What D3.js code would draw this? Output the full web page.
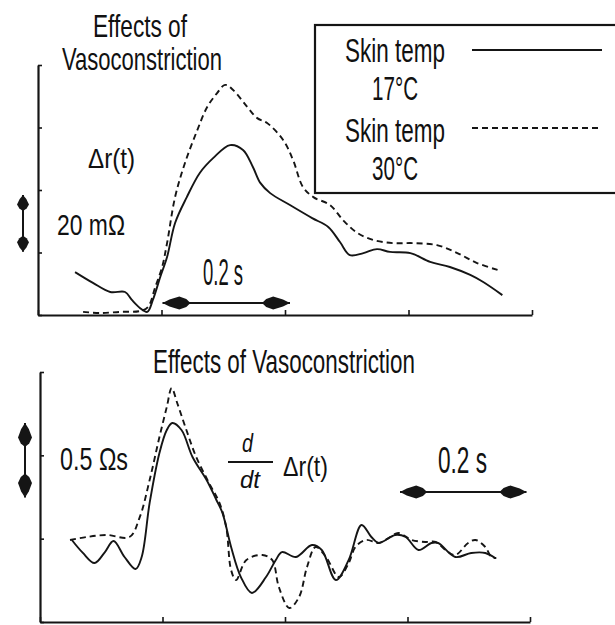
<!DOCTYPE html>
<html>
<head>
<meta charset="utf-8">
<script src="https://cdn.jsdelivr.net/npm/d3@7"></script>
<style>
  html, body { margin: 0; padding: 0; background: #fff; }
  svg { display: block; }
  text { font-family: "Liberation Sans", Arial, sans-serif; fill: #111; }
</style>
</head>
<body>
<svg id="chart" width="615" height="625"></svg>
<script>
// Time axis (ms) and tick positions shared by both panels
const timeTicks = [0, 200, 400, 600, 800];

// Panel A: impedance change Δr(t), mΩ
const resTicks = [0, 22, 44, 66, 88];
const res17 = [
  [60, 15.1], [89, 11.3], [117, 8.1], [141, 8.1], [152, 5.3], [165, 2.5], [177, 1.1],
  [186, 5.3], [198, 13.4], [209, 20.4], [222, 32.4], [241, 41.5], [262, 50.0],
  [284, 55.3], [311, 59.8], [332, 58.1], [348, 52.1], [360, 46.5], [376, 42.9],
  [408, 38.7], [444, 34.1], [470, 31.0], [489, 25.7], [505, 21.1], [527, 21.8],
  [549, 23.2], [570, 22.2], [603, 21.8], [635, 18.7], [667, 16.9], [700, 14.1],
  [721, 11.6], [752, 7.0]
];
const res30 = [
  [73, 1.1], [100, 0.7], [133, 1.1], [165, 1.4], [178, 2.8], [190, 9.9], [201, 16.9],
  [209, 25.3], [222, 41.5], [238, 53.5], [258, 65.1], [274, 73.2], [290, 78.1],
  [303, 81.0], [316, 79.2], [339, 73.2], [355, 69.3], [371, 67.6], [397, 61.6],
  [413, 54.6], [429, 45.1], [446, 41.5], [473, 38.7], [494, 33.4], [517, 28.9],
  [543, 26.4], [575, 25.3], [608, 25.3], [646, 24.6], [679, 21.8], [711, 18.3],
  [745, 15.8]
];

// Panel B: derivative d/dt Δr(t), Ωs
const derivTicks = [0, 0.56, 1.12, 1.68];
const deriv17 = [
  [52, 0.551], [70, 0.464], [89, 0.396], [106, 0.470], [120, 0.544], [138, 0.437],
  [156, 0.356], [166, 0.437], [179, 0.800], [195, 1.136], [207, 1.290], [216, 1.337],
  [231, 1.290], [249, 1.109], [272, 0.954], [288, 0.820], [298, 0.732], [312, 0.504],
  [328, 0.302], [346, 0.195], [369, 0.302], [385, 0.417], [395, 0.470], [418, 0.437],
  [444, 0.517], [460, 0.484], [483, 0.282], [504, 0.417], [525, 0.652], [541, 0.571],
  [553, 0.531], [580, 0.585], [597, 0.571], [618, 0.484], [639, 0.531], [650, 0.531],
  [678, 0.437], [704, 0.464], [727, 0.464], [743, 0.430]
];
const deriv30 = [
  [49, 0.551], [76, 0.571], [109, 0.585], [146, 0.571], [163, 0.706], [179, 0.954],
  [195, 1.243], [207, 1.445], [215, 1.572], [224, 1.472], [239, 1.290], [255, 1.109],
  [276, 0.934], [293, 0.800], [304, 0.638], [312, 0.349], [320, 0.282], [337, 0.417],
  [363, 0.450], [379, 0.417], [390, 0.235], [407, 0.094], [423, 0.168], [436, 0.370],
  [450, 0.504], [467, 0.437], [488, 0.302], [504, 0.396], [515, 0.504], [532, 0.551],
  [553, 0.531], [569, 0.564], [585, 0.598], [607, 0.551], [629, 0.538], [646, 0.538],
  [662, 0.484], [678, 0.450], [699, 0.531], [711, 0.551], [727, 0.504], [737, 0.437],
  [745, 0.430]
];

const legendLabels = [["Skin temp", "17°C"], ["Skin temp", "30°C"]];

const svg = d3.select("#chart");
const INK = "#151515";

// Condensed text helper: compress glyphs to a fixed width
function label(x, y, str, size, width, opts = {}) {
  const t = svg.append("text")
    .attr("x", x).attr("y", y)
    .attr("font-size", size)
    .attr("textLength", width)
    .attr("lengthAdjust", "spacingAndGlyphs")
    .text(str);
  if (opts.italic) t.attr("font-style", "italic");
  return t;
}

// Double-headed arrow with spindle-shaped heads
function arrow(x1, y1, x2, y2, L, W) {
  const g = svg.append("g");
  g.append("line").attr("x1", x1).attr("y1", y1).attr("x2", x2).attr("y2", y2)
    .attr("stroke", INK).attr("stroke-width", 2);
  const ang = Math.atan2(y2 - y1, x2 - x1);
  const head = (tx, ty, a) => {
    const c = Math.cos(a), s = Math.sin(a);
    const pt = (u, v) => [tx + u * c - v * s, ty + u * s + v * c];
    const pts = [pt(0, 0), pt(0.25 * L, 0.55 * W), pt(0.6 * L, W), pt(0.85 * L, 0.6 * W),
                 pt(L, 0), pt(0.85 * L, -0.6 * W), pt(0.6 * L, -W), pt(0.25 * L, -0.55 * W)];
    g.append("path").attr("d", "M" + pts.map(p => p.join(",")).join("L") + "Z")
      .attr("fill", INK);
  };
  head(x1, y1, ang);
  head(x2, y2, ang + Math.PI);
}

function panel(cfg) {
  const x = d3.scaleLinear().domain([0, 800]).range([cfg.left, cfg.right]);
  const y = d3.scaleLinear().domain(cfg.yDomain).range([cfg.bottom, cfg.top]);

  const xAxis = svg.append("g").attr("transform", `translate(0,${cfg.bottom})`)
    .call(d3.axisBottom(x).tickValues(timeTicks).tickSize(-5).tickSizeOuter(0).tickFormat(""));
  const yAxis = svg.append("g").attr("transform", `translate(${cfg.left},0)`)
    .call(d3.axisLeft(y).tickValues(cfg.yTicks).tickSize(-4).tickSizeOuter(0).tickFormat(""));
  [xAxis, yAxis].forEach(a => {
    a.select(".domain").attr("stroke", INK).attr("stroke-width", 2.2);
    a.selectAll(".tick line").attr("stroke", INK).attr("stroke-width", 1.6);
  });

  const line = d3.line().x(d => x(d[0])).y(d => y(d[1])).curve(d3.curveCatmullRom.alpha(0.5));
  svg.append("path").datum(cfg.solid).attr("d", line)
    .attr("fill", "none").attr("stroke", INK).attr("stroke-width", 1.9);
  svg.append("path").datum(cfg.dashed).attr("d", line)
    .attr("fill", "none").attr("stroke", INK).attr("stroke-width", 1.9)
    .attr("stroke-dasharray", "6,4");
  return { x, y };
}

// ---- Panel A ----
const A = panel({
  left: 38, right: 532, top: 65, bottom: 315,
  yDomain: [0, 88], yTicks: resTicks, solid: res17, dashed: res30
});
label(93, 37, "Effects of", 32, 94);
label(62, 70, "Vasoconstriction", 32, 160);
label(88, 168, "Δr(t)", 28, 47);
label(57, 235, "20 mΩ", 30, 68);
label(203, 285, "0.2 s", 37, 40);

// scale bars for panel A
arrow(A.x(200) + 1, 303, A.x(400) + 5, 303, 28, 6.5);
arrow(23, 195, 23, 195 + (A.y(0) - A.y(20)), 16, 6);

// legend
svg.append("rect").attr("x", 315).attr("y", 25).attr("width", 320).attr("height", 168)
  .attr("fill", "none").attr("stroke", INK).attr("stroke-width", 2.2);
legendLabels.forEach((lab, i) => {
  const dy = i * 80;
  label(345, 62 + dy, lab[0], 34, 100);
  label(372, 100 + dy, lab[1], 34, 46);
  const ln = svg.append("line").attr("x1", 472).attr("x2", 602)
    .attr("y1", 50 + dy - (i ? 2 : 0)).attr("y2", 50 + dy - (i ? 2 : 0))
    .attr("stroke", INK).attr("stroke-width", 1.9);
  if (i) ln.attr("stroke-dasharray", "6,4");
});

// ---- Panel B ----
const B = panel({
  left: 40, right: 530, top: 372, bottom: 622,
  yDomain: [0, 1.68], yTicks: derivTicks, solid: deriv17, dashed: deriv30
});
label(153, 373, "Effects of Vasoconstriction", 34, 262);
label(60, 470, "0.5 Ωs", 31, 68);
label(242, 452, "d", 25, 11, { italic: true });
svg.append("line").attr("x1", 228).attr("x2", 273).attr("y1", 462).attr("y2", 462)
  .attr("stroke", INK).attr("stroke-width", 2);
label(240, 488, "dt", 23, 20, { italic: true });
label(283, 476, "Δr(t)", 28, 45);
label(438, 473, "0.2 s", 36, 49);

arrow(400, 492, 400 + (B.x(200) - B.x(0)) + 4, 492, 27, 6.5);
arrow(25, 423, 25, 423 + (B.y(0) - B.y(0.5)), 24, 7);
</script>
</body>
</html>
